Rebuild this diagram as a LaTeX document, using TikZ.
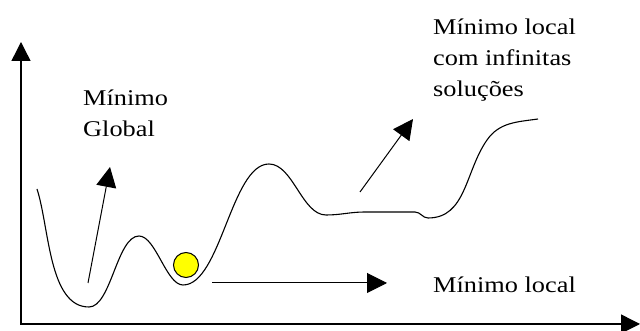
\documentclass[tikz,border=0pt]{standalone}
\usepackage{fontspec}
\setmainfont{Liberation Serif}
\usepackage{xcolor}
\usetikzlibrary{arrows.meta,positioning}
\definecolor{ink}{HTML}{000000}
\definecolor{ballfill}{HTML}{FFFF00}
\tikzset{
  every node/.style={text=ink},
  lbl/.style={font=\fontsize{22.5}{31}\selectfont,align=left,inner sep=0pt,xscale=1.17},
  axis/.style={-{Triangle[length=19pt,width=19pt]},line width=1.4pt,draw=ink},
  arrow/.style={-{Triangle[length=20pt,width=20pt]},line width=1pt,draw=ink},
  curve/.style={line width=1.1pt,draw=ink,looseness=0.65},
  ball/.style={circle,draw=ink,line width=1pt,fill=ballfill,minimum size=25pt,inner sep=0pt}
}
\begin{document}
\begin{tikzpicture}[x=1pt,y=1pt]
  \useasboundingbox (0,0) rectangle (640,331);

  % axes
  \coordinate (origin) at (20,7);
  \coordinate (ytop) at (21,289);
  \coordinate (xend) at (640,7);
  \draw[axis] (origin-|ytop)--(ytop);
  \draw[axis] (origin)--(xend);

  % landscape
  \draw[curve] (37,142) to[out=-72,in=180,looseness=0.8] (89,24) to[out=0,in=180] (139,95)
    to[out=0,in=180] (183,46) to[out=0,in=180] (269,167) to[out=0,in=180,looseness=0.8] (326,116)
    to[out=0,in=180,looseness=1] (365,119) -- (415,119) to[out=0,in=180,looseness=1] (428,113)
    to[out=0,in=-125,looseness=1] (487,191) to[out=55,in=188,looseness=1] (538,212);
  \node[ball] (ball) at (186,66) {};

  % labels
  \node[lbl,anchor=base west] (global) at (83,194) {Mínimo\\Global};
  \node[lbl,anchor=base west] (plateau) at (433,234) {Mínimo local\\com infinitas\\soluções};
  \node[lbl,anchor=base west] (local) at (433,38) {Mínimo local};

  % pointers
  \coordinate (gfrom) at (88,48);
  \coordinate (gto) at (110,164);
  \coordinate (lfrom) at (212,48);
  \coordinate (lto) at (387,48);
  \coordinate (pfrom) at (360,139);
  \coordinate (pto) at (413,212);
  \draw[arrow] (gfrom)--(gto);
  \draw[arrow] (lfrom)--(lto);
  \draw[arrow] (pfrom)--(pto);
\end{tikzpicture}
\end{document}
